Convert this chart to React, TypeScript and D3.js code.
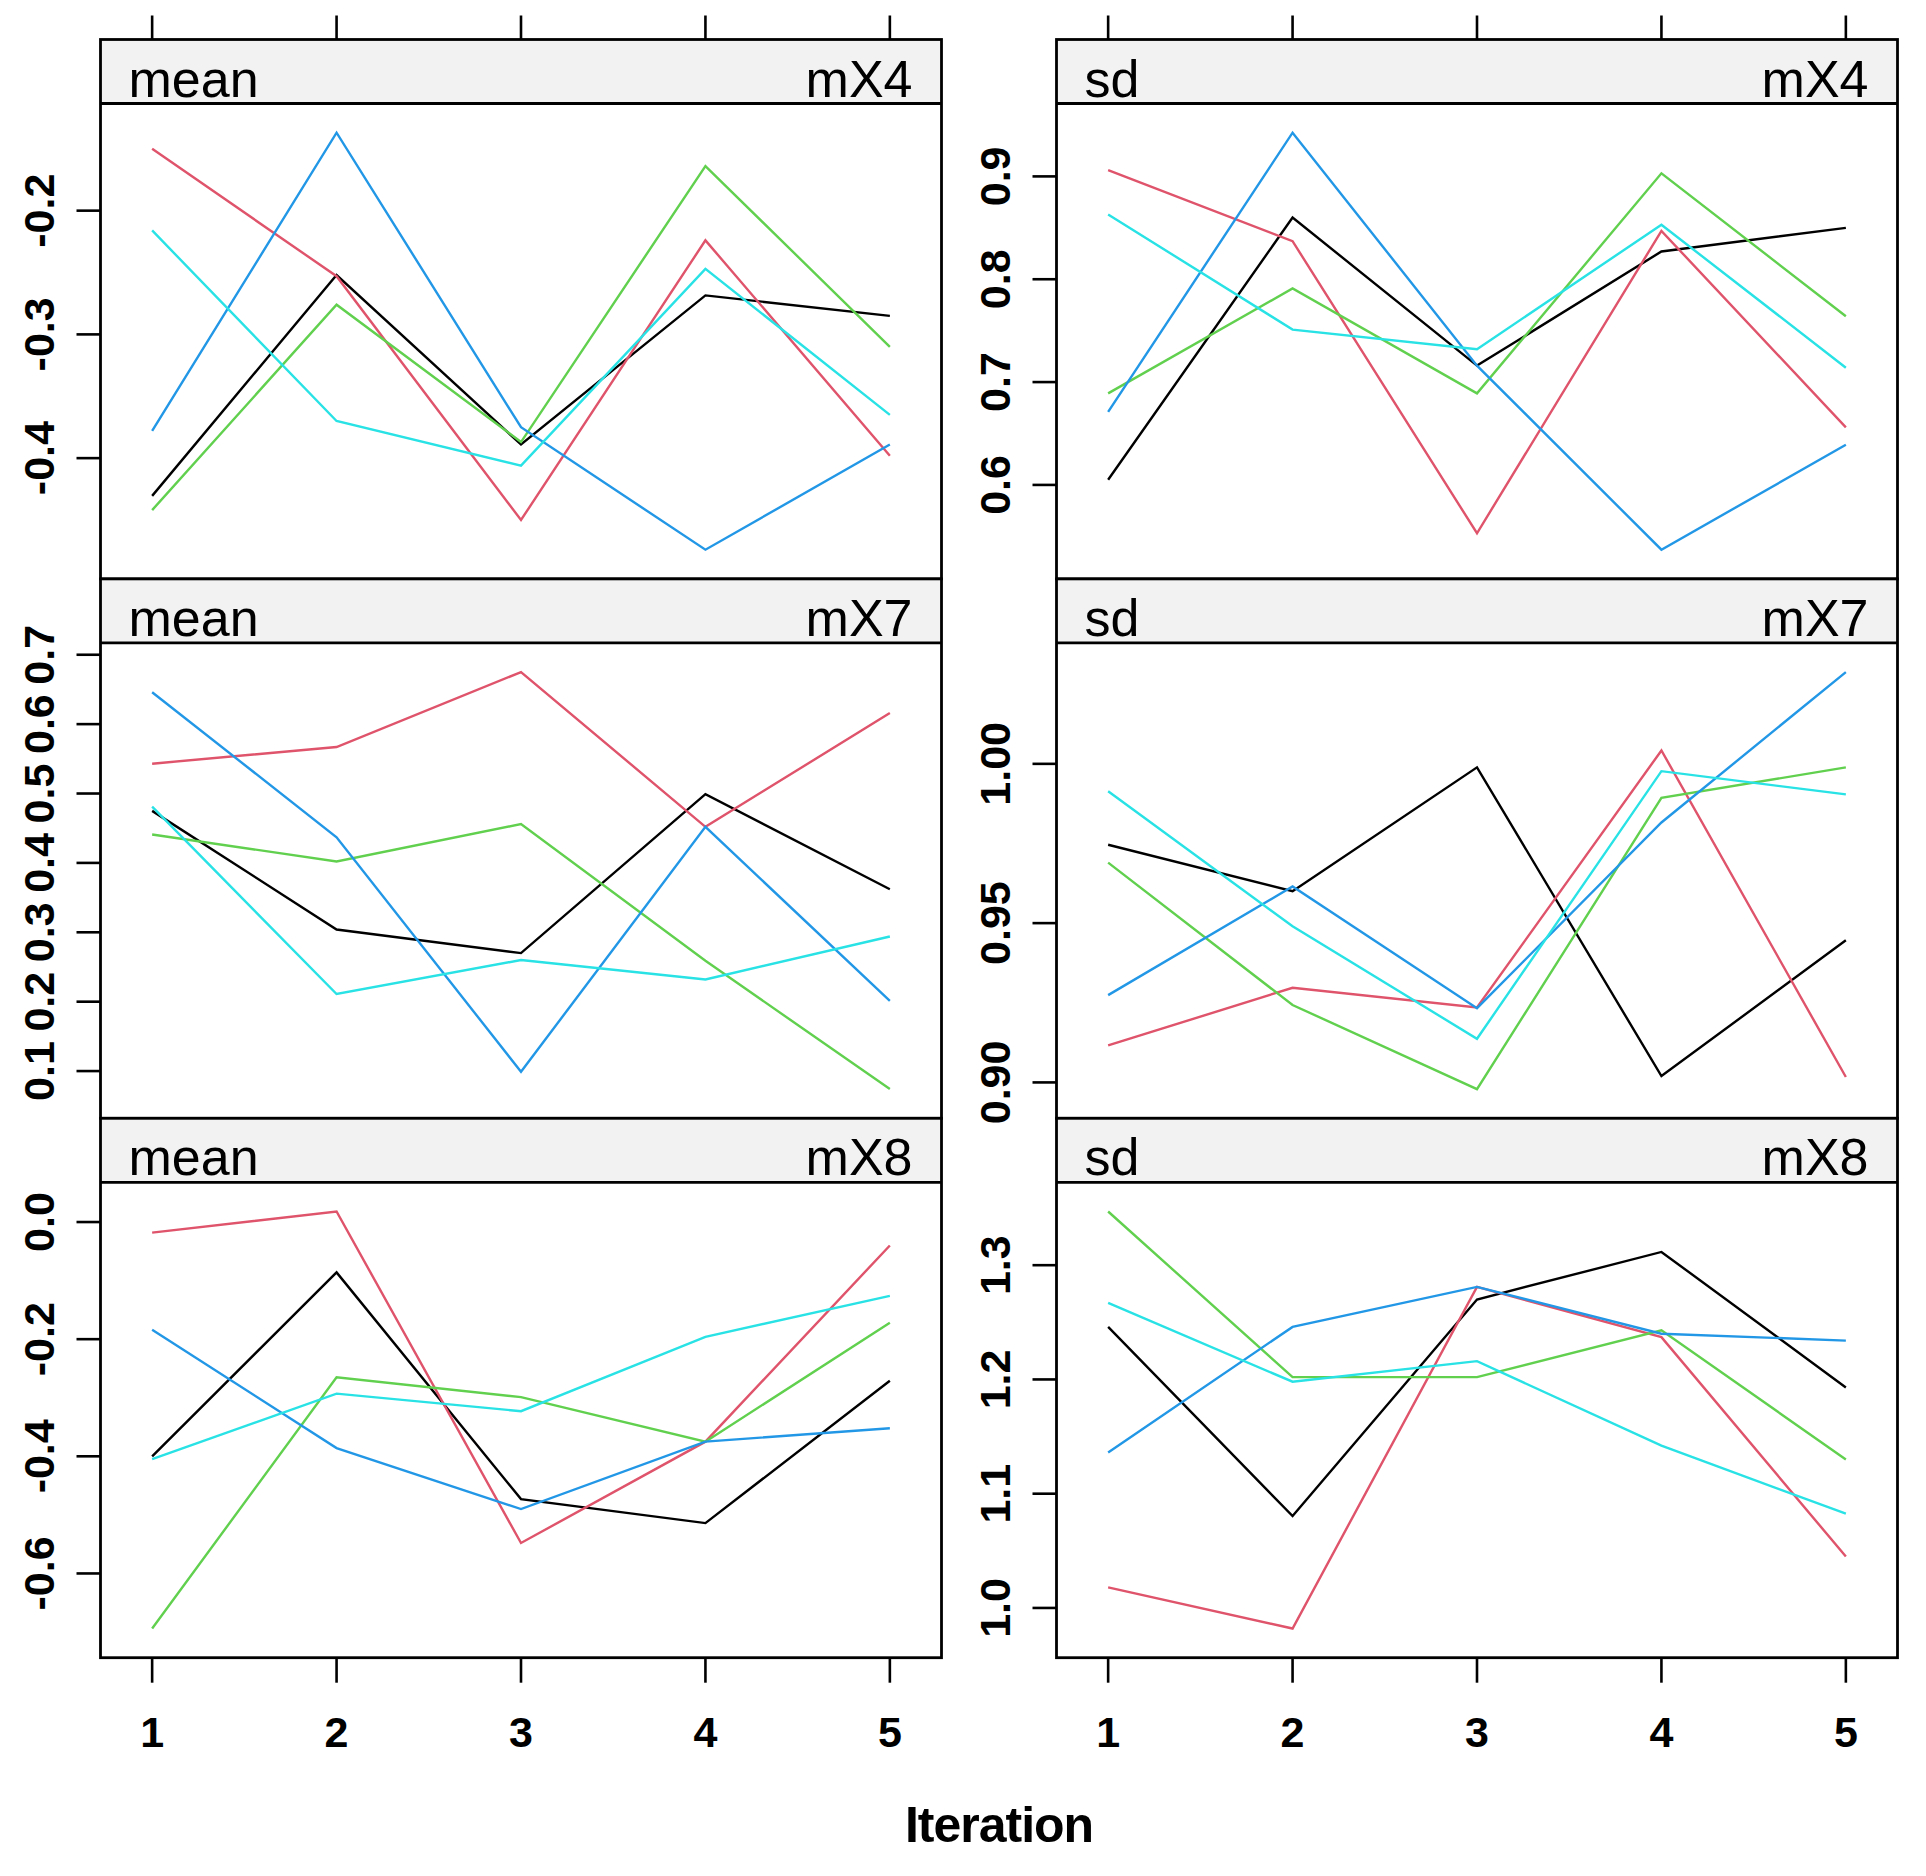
import React from "react";
import * as d3 from "d3";

const iterations = [1, 2, 3, 4, 5];
const chainColors = ["#000000", "#DF536B", "#61D04F", "#2297E6", "#28E2E5"];
const variables = ["mX4", "mX7", "mX8"];
const statistics = ["mean", "sd"];

// values per chain (rows) over iterations 1..5
const meanMX4 = [
  [-0.4305, -0.252, -0.389, -0.2685, -0.285],
  [-0.15, -0.253, -0.45, -0.224, -0.398],
  [-0.442, -0.276, -0.387, -0.164, -0.31],
  [-0.378, -0.137, -0.375, -0.474, -0.389],
  [-0.216, -0.37, -0.406, -0.247, -0.365],
];
const sdMX4 = [
  [0.605, 0.86, 0.716, 0.827, 0.85],
  [0.906, 0.837, 0.553, 0.847, 0.656],
  [0.689, 0.791, 0.689, 0.903, 0.764],
  [0.671, 0.9425, 0.716, 0.537, 0.639],
  [0.863, 0.751, 0.732, 0.853, 0.714],
];
const meanMX7 = [
  [0.475, 0.304, 0.27, 0.499, 0.362],
  [0.543, 0.567, 0.675, 0.452, 0.616],
  [0.441, 0.402, 0.456, 0.259, 0.074],
  [0.646, 0.437, 0.099, 0.452, 0.201],
  [0.481, 0.211, 0.26, 0.232, 0.294],
];
const sdMX7 = [
  [0.9746, 0.96, 0.9989, 0.902, 0.9446],
  [0.9116, 0.9297, 0.9235, 1.0042, 0.9017],
  [0.969, 0.9243, 0.8979, 0.9893, 0.9989],
  [0.9274, 0.9615, 0.9233, 0.9816, 1.0288],
  [0.9914, 0.949, 0.9137, 0.9977, 0.9904],
];
const meanMX8 = [
  [-0.4, -0.086, -0.473, -0.514, -0.271],
  [-0.018, 0.018, -0.548, -0.375, -0.04],
  [-0.694, -0.265, -0.299, -0.375, -0.172],
  [-0.184, -0.386, -0.49, -0.375, -0.352],
  [-0.405, -0.293, -0.323, -0.196, -0.126],
];
const sdMX8 = [
  [1.246, 1.0804, 1.27, 1.3116, 1.193],
  [1.018, 0.982, 1.281, 1.237, 1.045],
  [1.347, 1.202, 1.202, 1.243, 1.13],
  [1.136, 1.246, 1.281, 1.24, 1.234],
  [1.267, 1.198, 1.216, 1.142, 1.0825],
];

const ticksMeanMX4 = [-0.4, -0.3, -0.2];
const ticksSdMX4 = [0.6, 0.7, 0.8, 0.9];
const ticksMeanMX7 = [0.1, 0.2, 0.3, 0.4, 0.5, 0.6, 0.7];
const ticksSdMX7 = [0.9, 0.95, 1.0];
const ticksMeanMX8 = [-0.6, -0.4, -0.2, 0.0];
const ticksSdMX8 = [1.0, 1.1, 1.2, 1.3];

const labelsMeanMX4 = ["-0.4", "-0.3", "-0.2"];
const labelsSdMX4 = ["0.6", "0.7", "0.8", "0.9"];
const labelsMeanMX7 = ["0.1", "0.2", "0.3", "0.4", "0.5", "0.6", "0.7"];
const labelsSdMX7 = ["0.90", "0.95", "1.00"];
const labelsMeanMX8 = ["-0.6", "-0.4", "-0.2", "0.0"];
const labelsSdMX8 = ["1.0", "1.1", "1.2", "1.3"];

const panelData = [
  [meanMX4, sdMX4],
  [meanMX7, sdMX7],
  [meanMX8, sdMX8],
];
const panelTicks = [
  [ticksMeanMX4, ticksSdMX4],
  [ticksMeanMX7, ticksSdMX7],
  [ticksMeanMX8, ticksSdMX8],
];
const panelLabels = [
  [labelsMeanMX4, labelsSdMX4],
  [labelsMeanMX7, labelsSdMX7],
  [labelsMeanMX8, labelsSdMX8],
];

const W = 1926;
const H = 1876;
const colLeft = [100.5, 1056.5];
const colW = 841;
const top0 = 39.5;
const rowH = 539.4;
const stripH = 64;
const FONT = "'Liberation Sans', Arial, Helvetica, sans-serif";

export default function App() {
  const xPad = 0.07 * (5 - 1);
  const bottom = top0 + rowH * 3;

  const panels: React.ReactNode[] = [];
  variables.forEach((v, r) => {
    statistics.forEach((s, c) => {
      const left = colLeft[c];
      const right = left + colW;
      const rowTop = top0 + rowH * r;
      const stripBottom = rowTop + stripH;
      const rowBottom = rowTop + rowH;
      const data = panelData[r][c];
      const all = data.flat();
      const [mn, mx] = d3.extent(all) as [number, number];
      const pad = (mx - mn) * 0.07;
      const x = d3.scaleLinear().domain([1 - xPad, 5 + xPad]).range([left, right]);
      const y = d3.scaleLinear().domain([mn - pad, mx + pad]).range([rowBottom, stripBottom]);
      const line = d3
        .line<number>()
        .x((_, i) => x(iterations[i]))
        .y((d) => y(d));
      const ticks = panelTicks[r][c];
      const labels = panelLabels[r][c];
      panels.push(
        <g key={`${r}-${c}`}>
          <rect x={left} y={rowTop} width={colW} height={stripH} fill="#f2f2f2" />
          <rect x={left} y={stripBottom} width={colW} height={rowBottom - stripBottom} fill="#ffffff" />
          {data.map((series, k) => (
            <path key={k} d={line(series) || ""} fill="none" stroke={chainColors[k]} strokeWidth={2.4} />
          ))}
          <text x={left + 28} y={stripBottom - 7} fontFamily={FONT} fontSize={52} fill="#000">
            {s}
          </text>
          <text x={right - 29} y={stripBottom - 7} fontFamily={FONT} fontSize={52} fill="#000" textAnchor="end">
            {v}
          </text>
          <line x1={left} x2={right} y1={stripBottom} y2={stripBottom} stroke="#000" strokeWidth={2.8} />
          <rect x={left} y={rowTop} width={colW} height={rowH} fill="none" stroke="#000" strokeWidth={2.8} />
          {ticks.map((t, i) => (
            <g key={i}>
              <line x1={left - 24} x2={left} y1={y(t)} y2={y(t)} stroke="#000" strokeWidth={2.6} />
              <text
                transform={`translate(${left - 47},${y(t)}) rotate(-90)`}
                textAnchor="middle"
                fontFamily={FONT}
                fontSize={43}
                fontWeight="bold"
                fill="#000"
              >
                {labels[i]}
              </text>
            </g>
          ))}
          {r === 0 &&
            iterations.map((it) => (
              <line key={`t${it}`} x1={x(it)} x2={x(it)} y1={rowTop - 24} y2={rowTop} stroke="#000" strokeWidth={2.6} />
            ))}
          {r === 2 &&
            iterations.map((it) => (
              <g key={`b${it}`}>
                <line x1={x(it)} x2={x(it)} y1={bottom} y2={bottom + 25} stroke="#000" strokeWidth={2.6} />
                <text x={x(it)} y={bottom + 89} textAnchor="middle" fontFamily={FONT} fontSize={43} fontWeight="bold" fill="#000">
                  {it}
                </text>
              </g>
            ))}
        </g>
      );
    });
  });

  return (
    <svg
      width={W}
      height={H}
      viewBox={`0 0 ${W} ${H}`}
      style={{ position: "absolute", left: 0, top: 0, display: "block", background: "#fff" }}
    >
      <rect x={0} y={0} width={W} height={H} fill="#fff" />
      {panels}
      <text
        x={(colLeft[0] + colLeft[1] + colW) / 2}
        y={1842}
        textAnchor="middle"
        fontFamily={FONT}
        fontSize={50}
        fontWeight="bold"
        letterSpacing={-1}
        fill="#000"
      >
        Iteration
      </text>
    </svg>
  );
}
